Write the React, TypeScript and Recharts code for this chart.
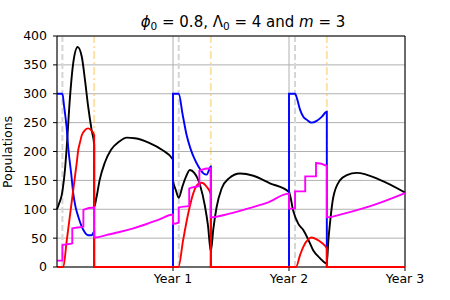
import {
  LineChart,
  Line,
  XAxis,
  YAxis,
  CartesianGrid,
  ReferenceLine,
} from "recharts";

// x is in days since start, three years
const xTicks = [365, 730, 1095];
const xTickLabels = ["Year 1", "Year 2", "Year 3"];
const yTicks = [0, 50, 100, 150, 200, 250, 300, 350, 400];

const dashedDays = [17, 383, 749];
const dashDotDays = [117, 484, 849];

const black = [
  [0, 100], [8, 112], [15, 125], [18, 135], [25, 168], [30, 203], [41, 295],
  [51, 353], [65, 381], [78, 364], [88, 324], [98, 278], [109, 237], [117, 212],
  [117, 104], [124, 120], [134, 150], [150, 180], [170, 203], [195, 217],
  [220, 224], [245, 223], [290, 215], [330, 203], [365, 186],
  [365, 150], [374, 133], [383, 120], [395, 140], [405, 155], [418, 168],
  [432, 163], [450, 142], [465, 107], [475, 72], [484, 27], [492, 66],
  [502, 103], [518, 136], [540, 153], [576, 162], [618, 158], [670, 145],
  [730, 130], [743, 98], [759, 75], [775, 64], [791, 47], [806, 29],
  [828, 15], [849, 6], [854, 47], [859, 76], [869, 120], [890, 150],
  [912, 159], [943, 163], [1016, 151], [1095, 129],
];

const blue = [
  [0, 300], [17, 300], [22, 280], [30, 243], [36, 203], [45, 160], [51, 128],
  [58, 105], [67, 87], [83, 64], [98, 55], [109, 55], [117, 61], [117, 0],
  [365, 0], [365, 300], [383, 300], [395, 265], [408, 228], [420, 205],
  [432, 188], [445, 174], [461, 162], [471, 160], [484, 174], [484, 0],
  [730, 0], [730, 300], [749, 300], [755, 292], [765, 272], [775, 260],
  [786, 255], [801, 250], [817, 253], [833, 260], [849, 269], [849, 0],
  [1095, 0],
];

const red = [
  [0, 0], [20, 0], [30, 43], [40, 86], [51, 133], [62, 180], [67, 203],
  [72, 215], [78, 228], [88, 237], [98, 240], [109, 236], [117, 228], [117, 0],
  [382, 0], [397, 47], [413, 93], [429, 128], [445, 144], [455, 146],
  [471, 139], [484, 126], [484, 0], [752, 0], [765, 21], [775, 35],
  [791, 48], [801, 51], [817, 48], [833, 42], [849, 32], [849, 0], [1095, 0],
];

const magenta = [
  [0, 11], [17, 11], [17, 38], [48, 41], [48, 67], [83, 70], [83, 99],
  [117, 103], [117, 51], [160, 56], [200, 61], [240, 67], [280, 74],
  [320, 82], [365, 91], [365, 75], [383, 77], [383, 103], [416, 106],
  [416, 136], [448, 141], [448, 167], [484, 171], [484, 86], [540, 92],
  [600, 101], [660, 111], [730, 127], [730, 101], [749, 101], [749, 131],
  [781, 131], [781, 157], [815, 157], [815, 180], [849, 175], [849, 86],
  [900, 92], [960, 101], [1020, 112], [1095, 128],
];

const toPoints = (pts: number[][]) => pts.map(([x, y]) => ({ x, y }));

const series = [
  { name: "black", color: "#000000", pts: black },
  { name: "blue", color: "#0000ff", pts: blue },
  { name: "red", color: "#ff0000", pts: red },
  { name: "magenta", color: "#ff00ff", pts: magenta },
];

const font = "DejaVu Sans";
const tickStyle = { fontSize: 12.5, fill: "#000", fontFamily: font };

const App = () => {
  return (
    <div style={{ position: "absolute", left: 0, top: 0, width: 450, height: 300 }}>
      <LineChart
        width={450}
        height={300}
        margin={{ top: 36, right: 45, bottom: 0, left: 0 }}
      >
        <CartesianGrid stroke="#b0b0b0" strokeWidth={1} />
        <XAxis
          dataKey="x"
          type="number"
          domain={[0, 1095]}
          ticks={xTicks}
          tickFormatter={(v: number) => xTickLabels[xTicks.indexOf(v)]}
          height={33}
          axisLine={false}
          tickLine={{ stroke: "#000" }}
          tickSize={4}
          tickMargin={3}
          tick={tickStyle}
        />
        <YAxis
          type="number"
          domain={[0, 400]}
          ticks={yTicks}
          width={57}
          stroke="#000"
          tickSize={4}
          tickMargin={6}
          tick={tickStyle}
        />
        {dashedDays.map((d) => (
          <ReferenceLine
            key={"g" + d}
            x={d}
            stroke="#d5d5d5"
            strokeWidth={2}
            strokeDasharray="6 3"
          />
        ))}
        {dashDotDays.map((d) => (
          <ReferenceLine
            key={"o" + d}
            x={d}
            stroke="orange"
            strokeOpacity={0.35}
            strokeWidth={2}
            strokeDasharray="8 3 2 3"
          />
        ))}
        <ReferenceLine y={0} stroke="#000" />
        <ReferenceLine y={400} stroke="#000" />
        <ReferenceLine x={1095} stroke="#000" />
        {series.map((s) => (
          <Line
            key={s.name}
            data={toPoints(s.pts)}
            dataKey="y"
            type="monotone"
            stroke={s.color}
            strokeWidth={1.9}
            dot={false}
            activeDot={false}
            isAnimationActive={false}
          />
        ))}
      </LineChart>
      <svg
        width={450}
        height={300}
        style={{ position: "absolute", left: 0, top: 0, pointerEvents: "none" }}
      >
        <text
          x={243}
          y={27}
          textAnchor="middle"
          fontFamily={font}
          fontSize={15}
          style={{ whiteSpace: "pre" }}
        >
          <tspan fontStyle="italic">ϕ</tspan>
          <tspan fontSize={10.5} dy={2.5}>0</tspan>
          <tspan dy={-2.5}>{" = 0.8, Λ"}</tspan>
          <tspan fontSize={10.5} dy={2.5}>0</tspan>
          <tspan dy={-2.5}>{" = 4 and "}</tspan>
          <tspan fontStyle="italic">m</tspan>
          <tspan>{" = 3"}</tspan>
        </text>
        <text
          transform="translate(12,152) rotate(-90)"
          textAnchor="middle"
          fontFamily={font}
          fontSize={12.5}
        >
          Populations
        </text>
      </svg>
    </div>
  );
};

export default App;
